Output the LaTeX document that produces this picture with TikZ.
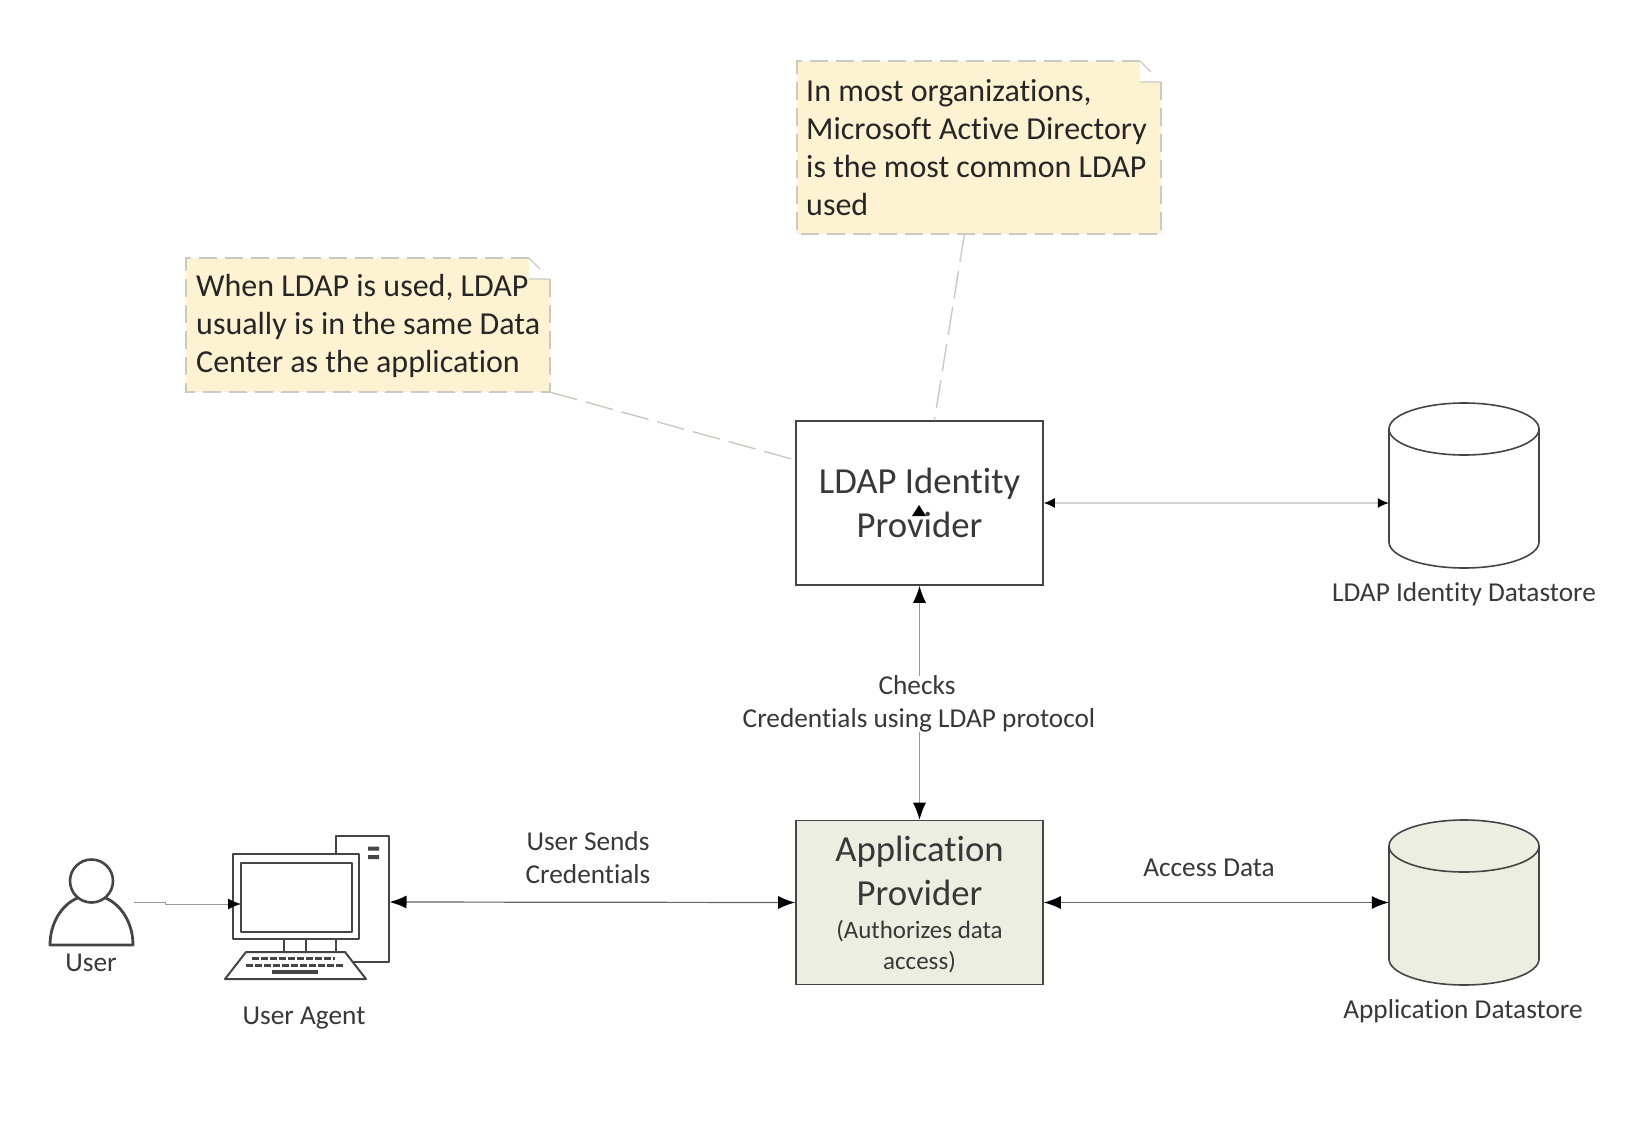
\documentclass[tikz,border=0pt]{standalone}
\usepackage{fontspec}
\setmainfont{Carlito}[Ligatures=NoCommon]
\usetikzlibrary{arrows.meta,calc}
\definecolor{txt}{HTML}{383838}
\definecolor{edge}{HTML}{454545}
\definecolor{notefill}{HTML}{FDF3D3}
\definecolor{dash}{HTML}{CACAC0}
\definecolor{appfill}{HTML}{EBEEE0}
\tikzset{
  every node/.style={text=txt,inner sep=0pt},
  boxnode/.style={draw=edge,line width=1.6pt,minimum width=247pt,minimum height=164pt,align=center},
  bigtext/.style={font=\fontsize{36.7}{44}\selectfont},
  labeltext/.style={font=\fontsize{27.3}{33}\selectfont,align=center},
  notetext/.style={font=\fontsize{32}{38}\selectfont,align=left,text=black!85},
  shapeholder/.style={minimum width=150pt,minimum height=165pt},
  notebody/.style={minimum width=364pt},
  noteline/.style={draw=dash,line width=1.5pt,dash pattern=on 18pt off 8pt},
  noteleader/.style={draw=dash,line width=1.4pt,dash pattern=on 28pt off 9pt},
  conn/.style={draw=#1,line width=1.2pt},
  bigarrows/.style={{Latex[length=17pt,width=13pt,color=black]}-{Latex[length=17pt,width=13pt,color=black]}},
  smallarrows/.style={{Latex[length=11pt,width=10pt,color=black]}-{Latex[length=11pt,width=10pt,color=black]}},
  iconline/.style={draw=edge,line width=2pt,line join=round},
}
\newcommand{\mycyl}[5]{% name, cx, top, bottom, fill
  \node[shapeholder] (#1) at (#2,{(#3+#4)/2}) {};
  \draw[iconline,line width=1.6pt,fill=#5]
    (#2-75,#3+26) arc[start angle=180,end angle=0,x radius=75pt,y radius=26pt]
    -- (#2+75,#4-26) arc[start angle=0,end angle=-180,x radius=75pt,y radius=26pt] -- cycle;
  \draw[iconline,line width=1.6pt] (#2-75,#3+26) arc[start angle=180,end angle=360,x radius=75pt,y radius=26pt];
}
\begin{document}
\begin{tikzpicture}[x=1pt,y=-1pt]
\useasboundingbox[fill=white] (0,0) rectangle (1650,1148);

% note 1
\fill[notefill] (797,61) -- (1140,61) -- (1140,82) -- (1161,82) -- (1161,234) -- (797,234) -- cycle;
\draw[noteline] (1140,61) -- (797,61) -- (797,234) -- (1161,234) -- (1161,82);
\draw[draw=dash,line width=1.2pt] (1140,61) -- (1151,72) (1140,82) -- (1161,82);
\node[notebody,minimum height=173pt] (note1) at (979,147.5) {};
\node[notetext,anchor=west] (note1text) at (806,148) {In most organizations,\\Microsoft Active Directory\\is the most common LDAP\\used};

% note 2
\fill[notefill] (186,258) -- (529,258) -- (529,279) -- (550,279) -- (550,392) -- (186,392) -- cycle;
\draw[noteline] (529,258) -- (186,258) -- (186,392) -- (550,392) -- (550,279);
\draw[draw=dash,line width=1.2pt] (529,258) -- (540,269) (529,279) -- (550,279);
\node[notebody,minimum height=134pt] (note2) at (368,325) {};
\node[notetext,anchor=west] (note2text) at (196,326) {When LDAP is used, LDAP\\usually is in the same Data\\Center as the application};

% main boxes
\node[boxnode,bigtext] (ldap) at (919.5,503) {LDAP Identity\\Provider};
\node[boxnode,fill=appfill,bigtext] (app) at (919.5,902.5) {\rule{0pt}{31pt}\raisebox{2pt}{Application}\\\raisebox{2pt}{Provider}\\[-12.5pt]{\fontsize{25}{33}\selectfont (Authorizes data}\\[-13pt]{\fontsize{25}{33}\selectfont access)}};

% datastores
\mycyl{ldapdb}{1464}{403}{568}{white}
\mycyl{appdb}{1464}{820}{985}{appfill}
\node[labeltext] (ldapdblabel) at (1464,594) {LDAP Identity Datastore};
\node[labeltext] (appdblabel) at (1463,1011) {Application Datastore};

% user
\draw[iconline,line width=2.8pt,fill=white] (50,945) arc[start angle=180,end angle=0,x radius=41.5pt,y radius=50pt] -- cycle;
\node[circle,draw=edge,line width=2.6pt,fill=white,minimum size=43pt] (user) at (91.5,881) {};
\node[labeltext] (userlabel) at (91,963) {User};

% computer
\draw[iconline] (336,854) -- (336,836) -- (389,836) -- (389,962) -- (353,962);
\fill[edge] (368,846.5) rectangle (379,850.5) (368,855) rectangle (379,859);
\draw[iconline,fill=white] (233,854) rectangle (359,939);
\draw[iconline,fill=white] (241,863) rectangle (352,932);
\node[minimum width=126pt,minimum height=85pt] (agent) at (296,896.5) {};
\draw[iconline] (284,939) -- (284,952) (306,939) -- (306,952) (336,939) -- (336,952);
\draw[iconline,fill=white] (246,952) -- (345,952) -- (366,979) -- (225,979) -- cycle;
\draw[edge,line width=3.6pt,dash pattern=on 6.5pt off 2.5pt] (252,958.5) -- (335,958.5);
\draw[edge,line width=3.6pt,dash pattern=on 6.5pt off 2.5pt] (246,965.5) -- (343,965.5);
\draw[edge,line width=3.6pt] (272,972) -- (318,972);
\node[labeltext] (agentlabel) at (304,1018) {User Agent};

% connectors
\draw[conn=black!18,smallarrows] (ldap.east) -- (ldapdb.west |- ldap.east);
\draw[conn=black!40,line width=1pt,bigarrows] (ldap.south) -- (app.north);
\node[labeltext,fill=white] (checks) at (919,704) {\hspace*{-4pt}Checks\\Credentials using LDAP protocol};
\draw[conn=black!60,bigarrows] (389.5,902) -- (app.west);
\draw[conn=black!60,bigarrows] (app.east) -- (appdb.west);
\node[labeltext] (sends) at (588,858) {User Sends\\Credentials};
\node[labeltext] (access) at (1209,868) {Access Data};
\draw[conn=black!40,line width=1pt,-{Latex[length=13pt,width=11pt,color=black]}] ($(user.east)+(20,21)$) -- (165,902) -- (165,904) -- (241,904);
\fill[black] (919,505) -- (926,516) -- (912,516) -- cycle;

% note connectors
\draw[noteleader] ($(note1.south west)!0.46!(note1.south east)$) -- ($(ldap.north west)!0.56!(ldap.north east)$);
\draw[noteleader] (note2.south east) -- ($(ldap.north west)!0.24!(ldap.south west)$);
\end{tikzpicture}
\end{document}
